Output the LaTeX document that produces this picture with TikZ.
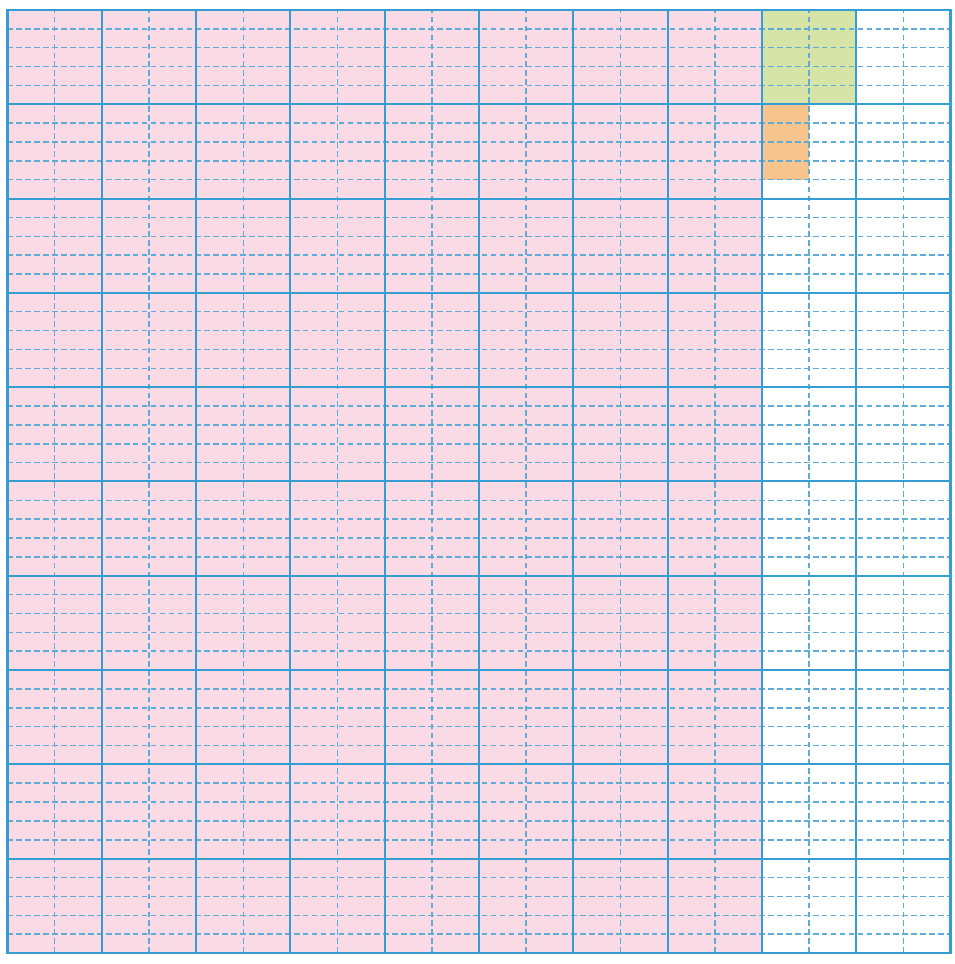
\documentclass[tikz,border=0pt]{standalone}
\usetikzlibrary{positioning}
\definecolor{paper}{RGB}{250,218,228}
\definecolor{tenth}{RGB}{214,228,168}
\definecolor{hundredth}{RGB}{246,196,140}
\definecolor{rule}{RGB}{52,158,210}
\definecolor{subrule}{RGB}{95,172,215}

\begin{document}
\begin{tikzpicture}[
  major/.style={draw=rule, line width=0.6pt},
  frame/.style={draw=rule, line width=0.85pt},
  minor/.style={draw=subrule, line width=0.45pt, dash pattern=on 1.7pt off 1pt}
]
\useasboundingbox[fill=white] (-0.08,-0.117) rectangle (10.047,10.106);
% shaded parts
\fill[paper] (0,0) rectangle (8,10);
\fill[tenth] (8,9) rectangle (9,10);
\fill[hundredth] (8,8.2) rectangle (8.5,9);
% fine lines
\foreach \x in {0,...,9}
  \draw[minor] (\x+0.5,0) -- (\x+0.5,10);
\foreach \y in {0,...,9}
  \foreach \k in {0.2,0.4,0.6,0.8}
    \draw[minor] (0,\y+\k) -- (10,\y+\k);
% main grid
\foreach \i in {1,...,9} {
  \draw[major] (\i,0) -- (\i,10);
  \draw[major] (0,\i) -- (10,\i);
}
\draw[frame] (0,0) rectangle (10,10);
\end{tikzpicture}
\end{document}
